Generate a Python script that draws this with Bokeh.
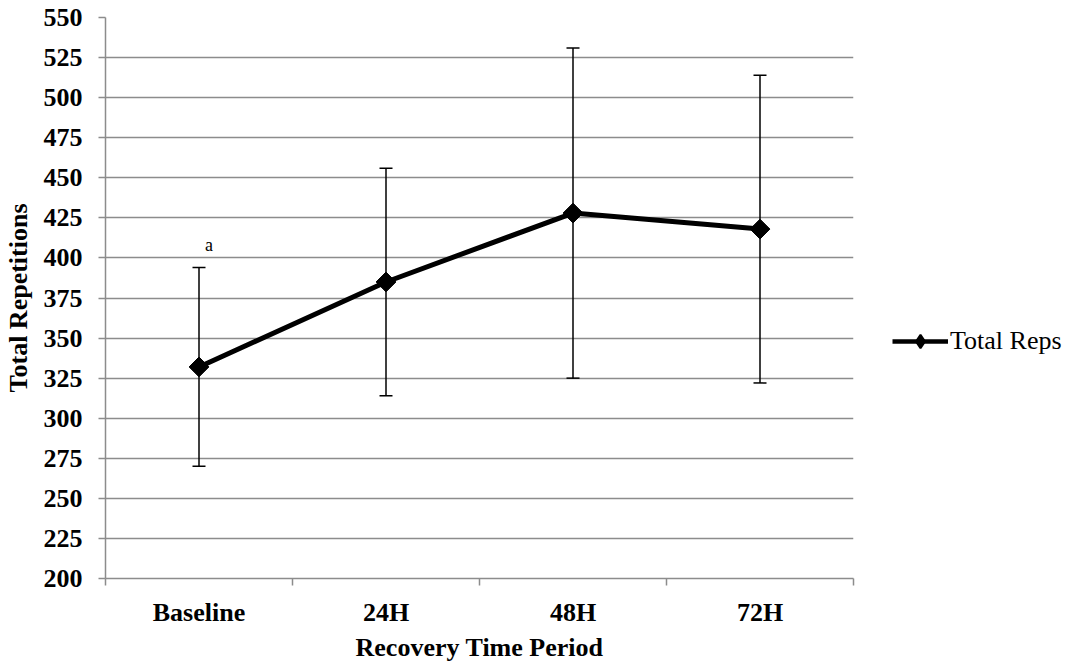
from bokeh.plotting import figure
from bokeh.layouts import row
from bokeh.models import (Range1d, FixedTicker, Whisker, ColumnDataSource, Legend, LegendItem, TeeHead)
from bokeh.core.properties import value
from bokeh.embed import file_html
from bokeh.resources import INLINE

categories = ["Baseline", "24H", "48H", "72H"]
total_reps = [332, 385, 428, 418]
error = [62, 71, 103, 96]
y_ticks = [200, 225, 250, 275, 300, 325, 350, 375, 400, 425, 450, 475, 500, 525, 550]
annot_text = ["a"]
annot_y = [408]
series_name = "Total Reps"

FONT = "Liberation Serif"
GRID = "#8c8c8c"
FS = "26px"

xpos = [i + 0.5 for i in range(len(categories))]
bounds = [i for i in range(len(categories) + 1)]
upper = [m + e for m, e in zip(total_reps, error)]
lower = [m - e for m, e in zip(total_reps, error)]

src = ColumnDataSource(dict(x=xpos, y=total_reps, upper=upper, lower=lower))

p = figure(width=855, height=664, output_backend="svg", toolbar_location=None,
           x_range=Range1d(0, len(categories)), y_range=Range1d(y_ticks[0], y_ticks[-1]),
           min_border_left=105, min_border_right=2, min_border_top=17, min_border_bottom=85)
p.outline_line_color = None
p.background_fill_color = "white"
p.border_fill_color = "white"

# grid
p.xgrid.grid_line_color = None
p.ygrid.grid_line_color = GRID
p.ygrid.grid_line_width = 1.5
p.ygrid.ticker = FixedTicker(ticks=y_ticks)

# y axis
p.yaxis.ticker = FixedTicker(ticks=y_ticks)
p.yaxis.axis_line_color = GRID
p.yaxis.axis_line_width = 1.5
p.yaxis.major_tick_line_color = GRID
p.yaxis.major_tick_line_width = 1.5
p.yaxis.major_tick_out = 7
p.yaxis.major_tick_in = 0
p.yaxis.minor_tick_line_color = None
p.yaxis.major_label_text_font = FONT
p.yaxis.major_label_text_font_style = "bold"
p.yaxis.major_label_text_font_size = FS
p.yaxis.major_label_text_color = "black"
p.yaxis.major_label_standoff = 16
p.yaxis.axis_label = "Total Repetitions"
p.yaxis.axis_label_text_font = FONT
p.yaxis.axis_label_text_font_style = "bold"
p.yaxis.axis_label_text_font_size = FS
p.yaxis.axis_label_text_color = "black"
p.yaxis.axis_label_standoff = 8

# x axis
p.xaxis.ticker = FixedTicker(ticks=xpos, minor_ticks=bounds)
p.xaxis.major_label_overrides = {x: c for x, c in zip(xpos, categories)}
p.xaxis.axis_line_color = GRID
p.xaxis.axis_line_width = 1.5
p.xaxis.major_tick_line_color = None
p.xaxis.minor_tick_line_color = GRID
p.xaxis.minor_tick_line_width = 1.5
p.xaxis.minor_tick_out = 7
p.xaxis.minor_tick_in = 0
p.xaxis.major_label_text_font = FONT
p.xaxis.major_label_text_font_style = "bold"
p.xaxis.major_label_text_font_size = FS
p.xaxis.major_label_text_color = "black"
p.xaxis.major_label_standoff = 12
p.xaxis.axis_label = "Recovery Time Period"
p.xaxis.axis_label_text_font = FONT
p.xaxis.axis_label_text_font_style = "bold"
p.xaxis.axis_label_text_font_size = FS
p.xaxis.axis_label_text_color = "black"
p.xaxis.axis_label_standoff = 3

# error bars
wh = Whisker(source=src, base="x", upper="upper", lower="lower", dimension="height",
             line_color="black", line_width=1.5,
             upper_head=TeeHead(size=13, line_color="black", line_width=1.5),
             lower_head=TeeHead(size=13, line_color="black", line_width=1.5))
p.add_layout(wh)

ln = p.line("x", "y", source=src, line_color="black", line_width=5)
mk = p.scatter("x", "y", source=src, marker="square", angle=0.7854, size=14,
               fill_color="black", line_color="black")

p.text(x=[xpos[0]], y=annot_y, text=annot_text, x_offset=10, text_align="center",
       text_baseline="middle", text_font=value(FONT), text_font_size="18px", text_color="black")

# legend panel (separate figure to the right of the plot area); its glyphs use the
# same data, which lies outside this panel's ranges, so only the legend shows
lg = figure(width=220, height=664, output_backend="svg", toolbar_location=None,
            x_range=Range1d(-2, -1), y_range=Range1d(-2, -1),
            x_axis_location=None, y_axis_location=None,
            min_border_left=0, min_border_right=0, min_border_top=0, min_border_bottom=0)
lg.outline_line_color = None
lg.grid.grid_line_color = None
lg.background_fill_color = "white"
lg.border_fill_color = "white"
lln = lg.line("x", "y", source=src, line_color="black", line_width=4.5)
lmk = lg.scatter("x", "y", source=src, marker="diamond", size=16,
                 fill_color="black", line_color="black", line_width=2)
legend = Legend(items=[LegendItem(label=series_name, renderers=[lln, lmk])],
                location=(37, 220), glyph_width=56, glyph_height=34, label_standoff=2,
                padding=0, margin=0, border_line_color=None, background_fill_alpha=0,
                label_text_font=FONT, label_text_font_size=FS, label_text_color="black")
lg.add_layout(legend, "center")

layout = row(p, lg, spacing=0)
open("out.html", "w").write(file_html(layout, INLINE))
